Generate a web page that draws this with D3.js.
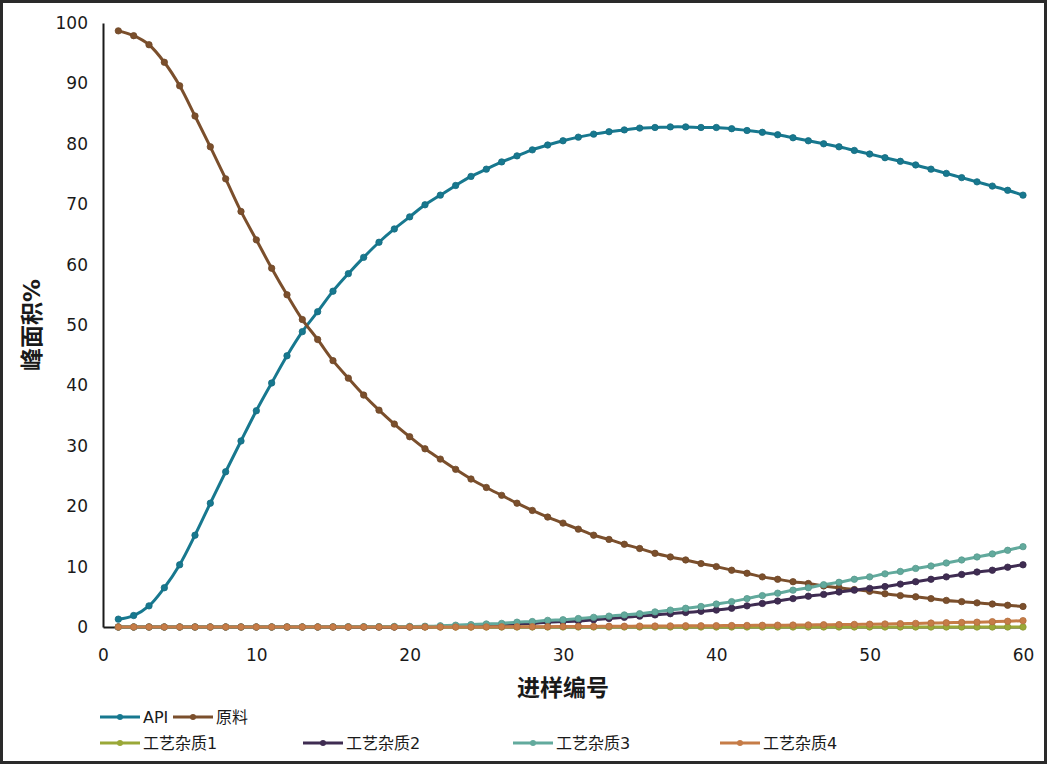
<!DOCTYPE html>
<html>
<head>
<meta charset="utf-8">
<script src="https://cdn.jsdelivr.net/npm/d3@7"></script>
<style>
  body { margin: 0; background: white; }
  text { font-family: "DejaVu Sans", "Noto Sans CJK SC", sans-serif; }
</style>
</head>
<body>
<svg width="1049" height="766"></svg>
<script>
// sample numbers 1..60
const samples = d3.range(1, 61);

const api = [1.3, 1.9, 3.5, 6.5, 10.3, 15.2, 20.5, 25.7, 30.8, 35.8,
  40.4, 44.9, 48.9, 52.2, 55.6, 58.5, 61.2, 63.7, 65.9, 67.9,
  69.9, 71.5, 73.1, 74.6, 75.8, 77.0, 78.0, 79.0, 79.8, 80.5,
  81.1, 81.6, 82.0, 82.3, 82.6, 82.7, 82.8, 82.8, 82.7, 82.7,
  82.5, 82.2, 81.9, 81.5, 81.0, 80.5, 80.0, 79.5, 78.9, 78.3,
  77.7, 77.1, 76.5, 75.8, 75.1, 74.4, 73.7, 73.0, 72.3, 71.5];

const rawMaterial = [98.7, 97.9, 96.4, 93.5, 89.6, 84.6, 79.5, 74.2, 68.8, 64.1,
  59.4, 55.0, 50.9, 47.6, 44.1, 41.2, 38.4, 35.9, 33.6, 31.5,
  29.5, 27.8, 26.1, 24.5, 23.1, 21.8, 20.5, 19.3, 18.2, 17.2,
  16.2, 15.2, 14.5, 13.7, 13.0, 12.2, 11.6, 11.1, 10.5, 10.0,
  9.4, 8.9, 8.3, 7.9, 7.5, 7.2, 6.8, 6.5, 6.2, 5.9,
  5.5, 5.2, 5.0, 4.7, 4.4, 4.2, 4.0, 3.8, 3.6, 3.4];

const impurity1 = [0, 0, 0, 0, 0, 0, 0, 0, 0, 0,
  0, 0, 0, 0, 0, 0, 0, 0, 0, 0,
  0, 0, 0, 0, 0, 0, 0, 0, 0, 0,
  0, 0, 0, 0, 0, 0, 0, 0, 0, 0,
  0, 0, 0, 0, 0, 0, 0, 0, 0, 0,
  0, 0, 0, 0, 0, 0, 0, 0, 0, 0];

const impurity2 = [0, 0, 0, 0, 0, 0, 0, 0, 0, 0,
  0, 0, 0, 0, 0, 0, 0, 0, 0, 0.02,
  0.05, 0.1, 0.15, 0.2, 0.3, 0.4, 0.5, 0.6, 0.8, 0.9,
  1.0, 1.2, 1.4, 1.6, 1.8, 2.0, 2.2, 2.4, 2.6, 2.8,
  3.1, 3.5, 3.9, 4.3, 4.7, 5.1, 5.4, 5.8, 6.1, 6.4,
  6.7, 7.1, 7.5, 7.9, 8.3, 8.7, 9.1, 9.4, 9.9, 10.3];

const impurity3 = [0, 0, 0, 0, 0, 0, 0, 0, 0, 0,
  0, 0, 0, 0, 0.02, 0.04, 0.05, 0.07, 0.09, 0.1,
  0.12, 0.2, 0.3, 0.4, 0.5, 0.6, 0.8, 0.9, 1.1, 1.2,
  1.4, 1.6, 1.8, 2.0, 2.2, 2.5, 2.8, 3.1, 3.4, 3.8,
  4.2, 4.7, 5.2, 5.6, 6.1, 6.5, 7.0, 7.4, 7.9, 8.3,
  8.8, 9.2, 9.7, 10.1, 10.6, 11.1, 11.6, 12.1, 12.7, 13.3];

const impurity4 = [0, 0, 0, 0, 0, 0, 0, 0, 0, 0,
  0, 0, 0, 0, 0, 0, 0, 0, 0, 0,
  0, 0, 0, 0, 0.02, 0.03, 0.04, 0.05, 0.06, 0.08,
  0.1, 0.1, 0.12, 0.13, 0.15, 0.16, 0.18, 0.2, 0.2, 0.22,
  0.24, 0.26, 0.28, 0.3, 0.32, 0.34, 0.37, 0.4, 0.43, 0.46,
  0.5, 0.55, 0.6, 0.65, 0.7, 0.75, 0.8, 0.88, 0.95, 1.05];

const seriesNames = ['API', '原料', '工艺杂质1', '工艺杂质2', '工艺杂质3', '工艺杂质4'];
const seriesValues = [api, rawMaterial, impurity1, impurity2, impurity3, impurity4];
const seriesColors = ['#17788f', '#7b4f2c', '#9aa838', '#3f2c52', '#62aa9d', '#c67c47'];

const xTicks = [0, 10, 20, 30, 40, 50, 60];
const yTicks = [0, 10, 20, 30, 40, 50, 60, 70, 80, 90, 100];

const svg = d3.select('svg');
const width = +svg.attr('width');
const height = +svg.attr('height');

svg.append('rect')
    .attr('x', 1.5).attr('y', 1.5)
    .attr('width', width - 5).attr('height', height - 5)
    .attr('fill', 'white')
    .attr('stroke', '#2a2a2a')
    .attr('stroke-width', 3);

const margin = {left: 103, top: 23, right: 26, bottom: 139};
const innerW = width - margin.left - margin.right;
const innerH = height - margin.top - margin.bottom;

const g = svg.append('g')
    .attr('transform', `translate(${margin.left},${margin.top})`);

const x = d3.scaleLinear().domain([0, 60]).range([0, innerW]);
const y = d3.scaleLinear().domain([0, 100]).range([innerH, 0]);

// axes
const xAxis = g.append('g')
    .attr('transform', `translate(0,${innerH})`)
    .call(d3.axisBottom(x).tickValues(xTicks).tickSize(0).tickPadding(22));
const yAxis = g.append('g')
    .call(d3.axisLeft(y).tickValues(yTicks).tickSize(0).tickPadding(15));

[xAxis, yAxis].forEach(a => {
  a.select('.domain').attr('stroke', '#1a1a1a').attr('stroke-width', 2);
  a.selectAll('text')
    .attr('font-family', 'DejaVu Sans, sans-serif')
    .attr('font-size', 17)
    .attr('fill', '#1a1a1a');
});

// lines, drawn in series order (later series sit on top, like the original)
const line = d3.line()
    .x((d, i) => x(samples[i]))
    .y(d => y(d))
    .curve(d3.curveCatmullRom);

seriesValues.forEach((vals, k) => {
  const s = g.append('g');
  s.append('path')
      .datum(vals)
      .attr('d', line)
      .attr('fill', 'none')
      .attr('stroke', seriesColors[k])
      .attr('stroke-width', 3);
  s.selectAll('circle')
      .data(vals)
      .join('circle')
        .attr('cx', (d, i) => x(samples[i]))
        .attr('cy', d => y(d))
        .attr('r', 3.2)
        .attr('fill', seriesColors[k])
        .attr('stroke', d3.color(seriesColors[k]).darker(0.3))
        .attr('stroke-width', 0.8);
});

// axis titles
svg.append('text')
    .attr('x', margin.left + innerW / 2)
    .attr('y', 696)
    .attr('text-anchor', 'middle')
    .attr('font-family', 'Noto Sans CJK SC, sans-serif')
    .attr('font-weight', 'bold')
    .attr('font-size', 23)
    .attr('fill', '#1a1a1a')
    .text('进样编号');

svg.append('text')
    .attr('transform', `translate(40,${margin.top + innerH / 2}) rotate(-90)`)
    .attr('text-anchor', 'middle')
    .attr('font-family', 'Noto Sans CJK SC, sans-serif')
    .attr('font-weight', 'bold')
    .attr('font-size', 23)
    .attr('fill', '#1a1a1a')
    .text('峰面积%');

// legend
const legendPos = [[100, 717], [173, 717], [100, 743], [303, 743], [513, 743], [720, 743]];
const legend = svg.append('g');
seriesNames.forEach((name, k) => {
  const item = legend.append('g')
      .attr('transform', `translate(${legendPos[k][0]},${legendPos[k][1]})`);
  item.append('line')
      .attr('x1', 0).attr('x2', 40)
      .attr('stroke', seriesColors[k])
      .attr('stroke-width', 3);
  item.append('circle')
      .attr('cx', 20).attr('r', 3)
      .attr('fill', seriesColors[k]);
  item.append('text')
      .attr('x', 43)
      .attr('dy', '0.35em')
      .attr('font-family', 'Noto Sans CJK SC, sans-serif')
      .attr('font-size', 16)
      .attr('fill', '#1a1a1a')
      .text(name);
});
</script>
</body>
</html>
